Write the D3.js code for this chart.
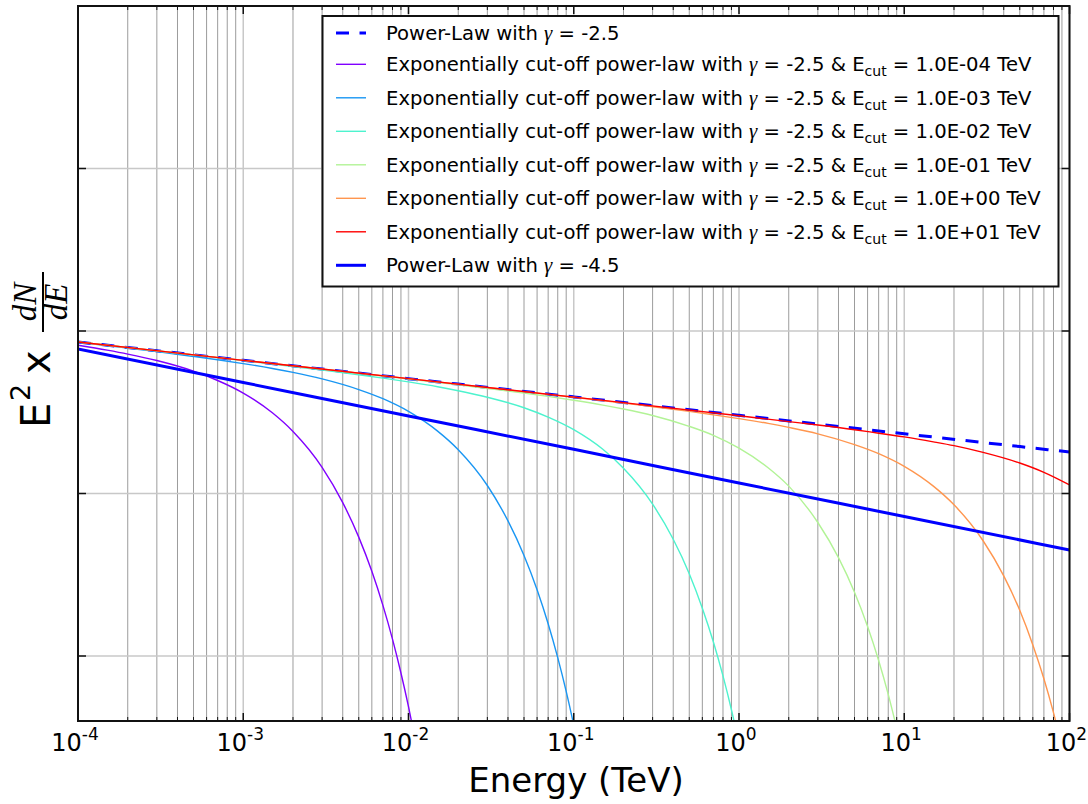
<!DOCTYPE html>
<html>
<head>
<meta charset="utf-8">
<script src="https://cdn.jsdelivr.net/npm/d3@7"></script>
<style>
  body { margin: 0; background: #fff; }
  svg { display: block; }
</style>
</head>
<body>
<svg id="chart" width="1088" height="804"></svg>
<script>
// ---- data: energy in TeV, E^2 dN/dE in arbitrary units ----
const plEnergy = [1e-4, 1e-3, 1e-2, 1e-1, 1, 10, 100];
const pl25Flux = [0.00856, 0.00660, 0.00509, 0.00393, 0.00303, 0.00233, 0.00180];
const pl45Flux = [0.00774, 0.00482, 0.00300, 0.00187, 0.00116, 0.000722, 0.000449];

const cut4Energy = [1e-4, 1.5e-4, 2e-4, 3e-4, 5e-4, 7e-4, 1e-3, 1.5e-3, 2e-3, 3e-3, 4e-3, 5e-3, 6e-3, 7e-3, 8e-3, 9e-3, 1e-2, 1.1e-2];
const cut4Flux = [0.00817, 0.00762, 0.00721, 0.00658, 0.00566, 0.00496, 0.00415, 0.00314, 0.00241, 0.00145, 0.000879, 0.000539, 0.000332, 0.000205, 0.000127, 0.0000786, 0.0000488, 0.0000303];

const cut3Energy = [1e-4, 2e-4, 3e-4, 5e-4, 7e-4, 1e-3, 1.5e-3, 2e-3, 3e-3, 5e-3, 7e-3, 1e-2, 1.5e-2, 2e-2, 3e-2, 4e-2, 5e-2, 6e-2, 7e-2, 8e-2, 9e-2, 0.1, 0.11];
const cut3Flux = [0.00852, 0.00784, 0.00746, 0.00697, 0.00665, 0.00630, 0.00588, 0.00556, 0.00507, 0.00436, 0.00383, 0.00320, 0.00242, 0.00186, 0.00112, 0.000678, 0.000416, 0.000256, 0.000158, 0.0000977, 0.0000606, 0.0000376, 0.0000234];

const cut2Energy = [1e-4, 1e-3, 2e-3, 3e-3, 5e-3, 7e-3, 1e-2, 1.5e-2, 2e-2, 3e-2, 5e-2, 7e-2, 0.1, 0.15, 0.2, 0.3, 0.4, 0.5, 0.6, 0.7, 0.8, 0.9, 1];
const cut2Flux = [0.00855, 0.00657, 0.00605, 0.00575, 0.00538, 0.00513, 0.00486, 0.00454, 0.00429, 0.00391, 0.00337, 0.00295, 0.00247, 0.00187, 0.00143, 0.000860, 0.000523, 0.000321, 0.000197, 0.000122, 0.0000754, 0.0000467, 0.0000290];

const cut1Energy = [1e-4, 1e-3, 1e-2, 2e-2, 3e-2, 5e-2, 7e-2, 0.1, 0.15, 0.2, 0.3, 0.5, 0.7, 1, 1.5, 2, 3, 4, 5, 6, 7, 8, 9];
const cut1Flux = [0.00855, 0.00660, 0.00507, 0.00466, 0.00443, 0.00415, 0.00396, 0.00375, 0.00350, 0.00331, 0.00302, 0.00259, 0.00228, 0.00190, 0.00144, 0.00111, 0.000663, 0.000403, 0.000247, 0.000152, 0.0000939, 0.0000581, 0.0000360];

const cut0Energy = [1e-4, 1e-3, 1e-2, 0.1, 0.2, 0.3, 0.5, 0.7, 1, 1.5, 2, 3, 5, 7, 10, 15, 20, 30, 40, 50, 60, 70, 80, 90];
const cut0Flux = [0.00855, 0.00660, 0.00509, 0.00391, 0.00360, 0.00342, 0.00320, 0.00305, 0.00289, 0.00270, 0.00255, 0.00233, 0.00200, 0.00176, 0.00147, 0.00111, 0.000852, 0.000512, 0.000311, 0.000191, 0.000117, 0.0000724, 0.0000448, 0.0000278];

const cutP1Energy = [1e-4, 1e-3, 1e-2, 0.1, 1, 2, 3, 5, 7, 10, 15, 20, 30, 50, 70, 100];
const cutP1Flux = [0.00856, 0.00660, 0.00509, 0.00392, 0.00301, 0.00277, 0.00264, 0.00247, 0.00235, 0.00223, 0.00208, 0.00197, 0.00179, 0.00154, 0.00135, 0.00113];

const cutoffLabels = ["1.0E-04", "1.0E-03", "1.0E-02", "1.0E-01", "1.0E+00", "1.0E+01"];
const cutoffColors = ["#8000ff", "#1996f3", "#4df3ce", "#b2f396", "#ff964f", "#ff0000"];
const xTickExponents = [-4, -3, -2, -1, 0, 1, 2];
const yTickValues = [1e-1, 1e-2, 1e-3, 1e-4];

// ---- layout ----
const svg = d3.select("#chart");
const plotLeft = 78, plotRight = 1069.5, plotTop = 6, plotBottom = 721;
const x = d3.scaleLog().domain([1e-4, 1e2]).range([plotLeft, plotRight]);
const y = d3.scaleLog().domain([Math.pow(10, -4.4), 1]).range([plotBottom, plotTop]);

svg.append("defs").append("clipPath").attr("id", "plotClip")
  .append("rect").attr("x", plotLeft).attr("y", plotTop)
  .attr("width", plotRight - plotLeft).attr("height", plotBottom - plotTop);

// ---- grid ----
const minorX = [];
xTickExponents.slice(0, -1).forEach(e => {
  for (let m = 2; m <= 9; m++) minorX.push(m * Math.pow(10, e));
});
const majorX = xTickExponents.map(e => Math.pow(10, e));
const grid = svg.append("g");
grid.selectAll(".gxm").data(minorX).join("line")
  .attr("x1", d => x(d)).attr("x2", d => x(d)).attr("y1", plotTop).attr("y2", plotBottom)
  .attr("stroke", "#9c9c9c").attr("stroke-width", 1);
grid.selectAll(".gxM").data(majorX).join("line")
  .attr("x1", d => x(d)).attr("x2", d => x(d)).attr("y1", plotTop).attr("y2", plotBottom)
  .attr("stroke", "#c8c8c8").attr("stroke-width", 1.5);
grid.selectAll(".gy").data(yTickValues).join("line")
  .attr("x1", plotLeft).attr("x2", plotRight).attr("y1", d => y(d)).attr("y2", d => y(d))
  .attr("stroke", "#c8c8c8").attr("stroke-width", 1.5);

// ---- curves ----
const line = d3.line().x(d => x(d[0])).y(d => y(d[1])).curve(d3.curveMonotoneX);
const zipSeries = (es, fs) => es.map((e, i) => [e, fs[i]]);
const curves = svg.append("g").attr("clip-path", "url(#plotClip)");

curves.append("path").datum(zipSeries(plEnergy, pl25Flux)).attr("d", line)
  .attr("fill", "none").attr("stroke", "#0000ff").attr("stroke-width", 3)
  .attr("stroke-dasharray", "13,10.5");

const cutSeries = [
  [cut4Energy, cut4Flux], [cut3Energy, cut3Flux], [cut2Energy, cut2Flux],
  [cut1Energy, cut1Flux], [cut0Energy, cut0Flux], [cutP1Energy, cutP1Flux]
];
cutSeries.forEach((s, i) => {
  curves.append("path").datum(zipSeries(s[0], s[1])).attr("d", line)
    .attr("fill", "none").attr("stroke", cutoffColors[i]).attr("stroke-width", 1.4);
});

curves.append("path").datum(zipSeries(plEnergy, pl45Flux)).attr("d", line)
  .attr("fill", "none").attr("stroke", "#0000ff").attr("stroke-width", 3);

// ---- frame and ticks ----
const axes = svg.append("g").attr("stroke", "#111");
majorX.forEach(v => {
  axes.append("line").attr("x1", x(v)).attr("x2", x(v)).attr("y1", plotBottom).attr("y2", plotBottom - 8).attr("stroke-width", 1.5);
  axes.append("line").attr("x1", x(v)).attr("x2", x(v)).attr("y1", plotTop).attr("y2", plotTop + 8).attr("stroke-width", 1.5);
});
minorX.forEach(v => {
  axes.append("line").attr("x1", x(v)).attr("x2", x(v)).attr("y1", plotBottom).attr("y2", plotBottom - 4).attr("stroke-width", 1);
  axes.append("line").attr("x1", x(v)).attr("x2", x(v)).attr("y1", plotTop).attr("y2", plotTop + 4).attr("stroke-width", 1);
});
yTickValues.forEach(v => {
  axes.append("line").attr("x1", plotLeft).attr("x2", plotLeft + 8).attr("y1", y(v)).attr("y2", y(v)).attr("stroke-width", 1.5);
  axes.append("line").attr("x1", plotRight).attr("x2", plotRight - 8).attr("y1", y(v)).attr("y2", y(v)).attr("stroke-width", 1.5);
});
svg.append("rect").attr("x", plotLeft).attr("y", plotTop).attr("width", plotRight - plotLeft).attr("height", plotBottom - plotTop)
  .attr("fill", "none").attr("stroke", "#111").attr("stroke-width", 2);

// ---- x tick labels ----
const sans = "'DejaVu Sans', sans-serif";
xTickExponents.forEach(e => {
  const t = svg.append("text").attr("x", x(Math.pow(10, e)) - 3).attr("y", 751)
    .attr("text-anchor", "middle").style("font-family", sans).style("font-size", "24px").attr("fill", "#000");
  t.append("tspan").text("10");
  t.append("tspan").attr("dy", -11).style("font-size", "17px").text(String(e));
});

// ---- axis titles ----
svg.append("text").attr("x", 576).attr("y", 792).attr("text-anchor", "middle")
  .style("font-family", sans).style("font-size", "34px").attr("fill", "#000").text("Energy (TeV)");

const math = "'Liberation Serif', 'DejaVu Serif', serif";
const yl = svg.append("g").attr("transform", "translate(50,428) rotate(-90)");
yl.append("text").attr("x", 0).attr("y", 0).style("font-family", sans).style("font-size", "40px").text("E");
yl.append("text").attr("x", 27).attr("y", -20).style("font-family", sans).style("font-size", "27px").text("2");
yl.append("text").attr("x", 54).attr("y", 0).style("font-family", sans).style("font-size", "40px").text("x");
const fracCx = 126;
yl.append("text").attr("x", fracCx).attr("y", -14).attr("text-anchor", "middle")
  .style("font-family", math).style("font-style", "italic").style("font-size", "33px").text("dN");
yl.append("line").attr("x1", fracCx - 30).attr("x2", fracCx + 30).attr("y1", -7).attr("y2", -7)
  .attr("stroke", "#000").attr("stroke-width", 2);
yl.append("text").attr("x", fracCx).attr("y", 17).attr("text-anchor", "middle")
  .style("font-family", math).style("font-style", "italic").style("font-size", "33px").text("dE");

// ---- legend ----
const lg = svg.append("g");
lg.append("rect").attr("x", 322.5).attr("y", 16).attr("width", 736).attr("height", 270.5)
  .attr("fill", "#fff").attr("stroke", "#111").attr("stroke-width", 2);

const legendItems = [{ kind: "pl", gamma: "-2.5", color: "#0000ff", width: 3, dash: "13,10.5" }]
  .concat(cutoffLabels.map((c, i) => ({ kind: "cut", ecut: c, color: cutoffColors[i], width: 1.4 })))
  .concat([{ kind: "pl", gamma: "-4.5", color: "#0000ff", width: 3 }]);

legendItems.forEach((it, i) => {
  const cy = i === 0 ? 33 : 64.3 + (i - 1) * 33.5;
  lg.append("line").attr("x1", 336).attr("x2", 366).attr("y1", cy).attr("y2", cy)
    .attr("stroke", it.color).attr("stroke-width", it.width)
    .attr("stroke-dasharray", it.dash || null);
  const t = lg.append("text").attr("x", 386).attr("y", cy + 7)
    .style("font-family", sans).style("font-size", "19.6px").attr("fill", "#000");
  if (it.kind === "pl") {
    t.append("tspan").text("Power-Law with ");
    t.append("tspan").style("font-family", math).style("font-style", "italic").style("font-size", "21px").text("γ");
    t.append("tspan").text(" = " + it.gamma);
  } else {
    t.append("tspan").text("Exponentially cut-off power-law with ");
    t.append("tspan").style("font-family", math).style("font-style", "italic").style("font-size", "21px").text("γ");
    t.append("tspan").text(" = -2.5 & E");
    t.append("tspan").attr("dy", 5).style("font-size", "14px").text("cut");
    t.append("tspan").attr("dy", -5).text(" = " + it.ecut + " TeV");
  }
});
</script>
</body>
</html>
